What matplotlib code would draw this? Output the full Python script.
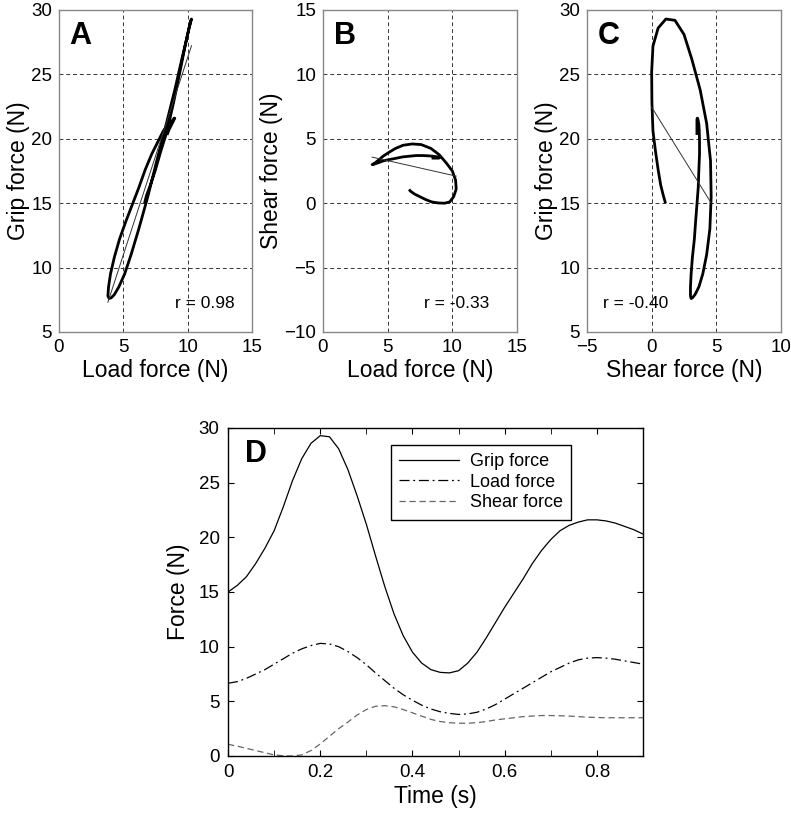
import matplotlib.pyplot as plt
import numpy as np

plt.rcParams['font.family'] = ['Liberation Sans', 'DejaVu Sans']

# time base (s) and the three force traces (N)
time = [0.00, 0.02, 0.04, 0.06, 0.08, 0.10, 0.12, 0.14, 0.16, 0.18,
        0.20, 0.22, 0.24, 0.26, 0.28, 0.30, 0.32, 0.34, 0.36, 0.38,
        0.40, 0.42, 0.44, 0.46, 0.48, 0.50, 0.52, 0.54, 0.56, 0.58,
        0.60, 0.62, 0.64, 0.66, 0.68, 0.70, 0.72, 0.74, 0.76, 0.78,
        0.80, 0.82, 0.84, 0.86, 0.88, 0.90]
grip = [15.0, 15.6, 16.4, 17.6, 19.0, 20.6, 22.8, 25.2, 27.2, 28.6,
        29.3, 29.2, 28.1, 26.2, 23.8, 21.2, 18.3, 15.5, 13.0, 11.0,
        9.5, 8.5, 7.9, 7.65, 7.6, 7.8, 8.5, 9.5, 10.8, 12.2,
        13.6, 14.9, 16.2, 17.6, 18.8, 19.8, 20.6, 21.1, 21.4, 21.6,
        21.6, 21.5, 21.3, 21.0, 20.7, 20.3]
load = [6.65, 6.8, 7.1, 7.5, 7.9, 8.4, 8.9, 9.4, 9.8, 10.1,
        10.3, 10.25, 10.0, 9.55, 9.0, 8.35, 7.6, 6.9, 6.2, 5.6,
        5.1, 4.65, 4.3, 4.05, 3.9, 3.8, 3.85, 4.0, 4.3, 4.7,
        5.2, 5.7, 6.2, 6.7, 7.2, 7.7, 8.1, 8.5, 8.8, 8.95,
        9.0, 8.95, 8.85, 8.7, 8.55, 8.4]
shear = [1.07, 0.9, 0.7, 0.5, 0.3, 0.1, 0.02, 0.0, 0.1, 0.5,
         1.1, 1.8, 2.5, 3.1, 3.75, 4.25, 4.55, 4.6, 4.5, 4.25,
         3.95, 3.65, 3.35, 3.15, 3.05, 3.0, 3.0, 3.05, 3.15, 3.3,
         3.4, 3.5, 3.6, 3.65, 3.7, 3.7, 3.68, 3.65, 3.6, 3.55,
         3.52, 3.5, 3.5, 3.5, 3.5, 3.5]

r_labels = ['r = 0.98', 'r = -0.33', 'r = -0.40']
legend_labels = ['Grip force', 'Load force', 'Shear force']

W, H = 791, 815
fig = plt.figure(figsize=(W / 100, H / 100), dpi=100)

def px_axes(left, top, right, bottom):
    return fig.add_axes([left / W, 1 - bottom / H, (right - left) / W, (bottom - top) / H])

axA = px_axes(59, 10, 252, 332)
axB = px_axes(323, 10, 517, 332)
axC = px_axes(587, 10, 781, 332)
axD = px_axes(228, 428, 643, 756)

# top panels: x vs y loops with regression line
panels = [
    (axA, load, grip, 'A', 'Load force (N)', 'Grip force (N)', (0, 15), (5, 30), r_labels[0], 0.60),
    (axB, load, shear, 'B', 'Load force (N)', 'Shear force (N)', (0, 15), (-10, 15), r_labels[1], 0.52),
    (axC, shear, grip, 'C', 'Shear force (N)', 'Grip force (N)', (-5, 10), (5, 30), r_labels[2], 0.085),
]
for ax, xs, ys, letter, xl, yl, xlim, ylim, rtxt, rx in panels:
    xs = np.array(xs); ys = np.array(ys)
    ax.plot(xs, ys, color='black', lw=2.0, solid_capstyle='butt', zorder=3)
    k, b = np.polyfit(xs, ys, 1)
    xfit = np.array([xs.min(), xs.max()])
    ax.plot(xfit, k * xfit + b, color='#333333', lw=0.7, zorder=4)
    ax.set_xlim(xlim); ax.set_ylim(ylim)
    ax.set_xticks(np.arange(xlim[0], xlim[1] + 1, 5))
    ax.set_yticks(np.arange(ylim[0], ylim[1] + 1, 5))
    ax.grid(True, color='#333333', linestyle=(0, (4, 3)), lw=0.7)
    ax.tick_params(length=0, labelsize=13.5, pad=5)
    for s in ax.spines.values():
        s.set_color('#888888')
        s.set_linewidth(1.0)
    ax.set_xlabel(xl, fontsize=16.5, labelpad=2)
    ax.set_ylabel(yl, fontsize=16.5, labelpad=1)
    ax.text(0.055, 0.965, letter, transform=ax.transAxes, fontsize=22,
            fontweight='bold', va='top', ha='left')
    ax.text(rx, 0.075, rtxt, transform=ax.transAxes, fontsize=12.5,
            va='baseline', ha='left')

# bottom panel: time series
axD.plot(time, grip, color='black', lw=0.9, label=legend_labels[0])
axD.plot(time, load, color='black', lw=0.9, linestyle=(0, (8, 3, 1.5, 3)), label=legend_labels[1])
axD.plot(time, shear, color='#666666', lw=0.9, linestyle=(0, (5, 3)), label=legend_labels[2])
axD.set_xlim(0, 0.9); axD.set_ylim(0, 30)
axD.set_xticks([0, 0.2, 0.4, 0.6, 0.8])
axD.set_xticklabels(['0', '0.2', '0.4', '0.6', '0.8'])
axD.set_xticks(np.arange(0.1, 0.9, 0.2), minor=True)
axD.set_yticks(np.arange(0, 31, 5))
axD.tick_params(which='both', direction='in', top=True, right=True, length=4,
                labelsize=13.5, pad=6)
axD.set_xlabel('Time (s)', fontsize=16.5, labelpad=3)
axD.set_ylabel('Force (N)', fontsize=16.5, labelpad=6)
for s in axD.spines.values():
    s.set_linewidth(1.0)
axD.text(0.04, 0.965, 'D', transform=axD.transAxes, fontsize=22,
         fontweight='bold', va='top', ha='left')
leg = axD.legend(loc='upper left', bbox_to_anchor=(0.393, 0.948), fontsize=13,
                 fancybox=False, framealpha=1, edgecolor='black',
                 handlelength=3.3, borderpad=0.45, labelspacing=0.2,
                 handletextpad=0.6, borderaxespad=0)
leg.get_frame().set_linewidth(1.0)

fig.savefig('out.png', dpi=100)
